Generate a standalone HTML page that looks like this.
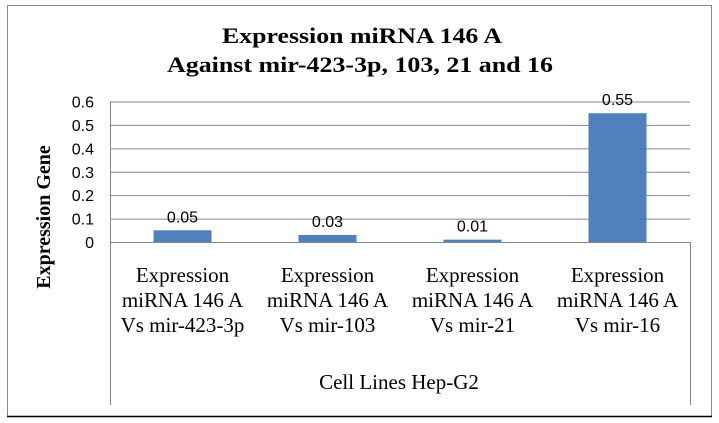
<!DOCTYPE html>
<html><head><meta charset="utf-8"><style>
html,body{margin:0;padding:0;background:#fff}
svg{display:block}
</style></head><body>
<svg id="chart" width="719" height="423" viewBox="0 0 719 423" xmlns="http://www.w3.org/2000/svg">
<rect x="7.5" y="5.5" width="704" height="411" fill="#fff" stroke="#888" stroke-width="1"/>
<line x1="7" y1="416.5" x2="712" y2="416.5" stroke="#000" stroke-width="1.5"/>
<text x="362" y="43" text-anchor="middle" font-family="Liberation Serif, serif" font-weight="bold" font-size="22" textLength="280" lengthAdjust="spacingAndGlyphs">Expression miRNA 146 A</text>
<text x="360" y="72" text-anchor="middle" font-family="Liberation Serif, serif" font-weight="bold" font-size="22" textLength="386" lengthAdjust="spacingAndGlyphs">Against mir-423-3p, 103, 21 and 16</text>
<g id="grid"></g>
<g id="bars"></g>
<g id="labels"></g>
<text transform="translate(50,217) rotate(-90)" text-anchor="middle" font-family="Liberation Serif, serif" font-weight="bold" font-size="20">Expression Gene</text>
<text x="399" y="389" text-anchor="middle" font-family="Liberation Serif, serif" font-size="21">Cell Lines Hep-G2</text>
</svg>
<script>
const categories = [["Expression","miRNA 146 A","Vs mir-423-3p"],["Expression","miRNA 146 A","Vs mir-103"],["Expression","miRNA 146 A","Vs mir-21"],["Expression","miRNA 146 A","Vs mir-16"]];
const values = [0.05, 0.03, 0.01, 0.55];
const valueLabels = ["0.05","0.03","0.01","0.55"];
const yTicks = [0, 0.1, 0.2, 0.3, 0.4, 0.5, 0.6];
const yTickLabels = ["0","0.1","0.2","0.3","0.4","0.5","0.6"];

const NS = "http://www.w3.org/2000/svg";
const L = 110, R = 690, T = 101.5, B = 242, AXB = 405;
const yMax = 0.6;
function y(v){ return B - (v / yMax) * (B - T); }
const bandW = (R - L) / categories.length;
function xc(i){ return L + bandW * (i + 0.5); }
function mk(tag, attrs, parent){ const e = document.createElementNS(NS, tag); for (const k in attrs) e.setAttribute(k, attrs[k]); parent.appendChild(e); return e; }

const grid = document.getElementById('grid');
const bars = document.getElementById('bars');
const labels = document.getElementById('labels');

yTicks.forEach((t, i) => {
  const ln = mk('line', {x1: L, x2: R, y1: y(t) + 0.5, y2: y(t) + 0.5, stroke: '#868686', 'stroke-width': 1}, grid);
  
  
  const tx = mk('text', {x: 94, y: y(t) + 6, 'text-anchor': 'end', 'font-family': 'Liberation Sans, sans-serif', 'font-size': 16, fill: '#000'}, labels);
  tx.textContent = yTickLabels[i];
  
  
});
const la = mk('line', {x1: L + 0.5, x2: L + 0.5, y1: T, y2: AXB, stroke: '#868686', 'stroke-width': 1}, grid);


const ra = mk('line', {x1: R + 0.5, x2: R + 0.5, y1: B, y2: AXB, stroke: '#868686', 'stroke-width': 1}, grid);



const barW = 58;
values.forEach((v, i) => {
  const r = mk('rect', {x: xc(i) - barW / 2, y: y(v), width: barW, height: B - y(v), fill: '#4f81bd'}, bars);
  
  
  const vl = mk('text', {x: xc(i), y: y(v) - 8, 'text-anchor': 'middle', 'font-family': 'Liberation Sans, sans-serif', 'font-size': 16, fill: '#000'}, labels);
  vl.textContent = valueLabels[i];
  
  
  categories[i].forEach((line, j) => {
    const c = mk('text', {x: xc(i), y: 282 + j * 25, 'text-anchor': 'middle', 'font-family': 'Liberation Serif, serif', 'font-size': 21, fill: '#000'}, labels);
    c.textContent = line;
    
    
  });
});
</script>
</body></html>
